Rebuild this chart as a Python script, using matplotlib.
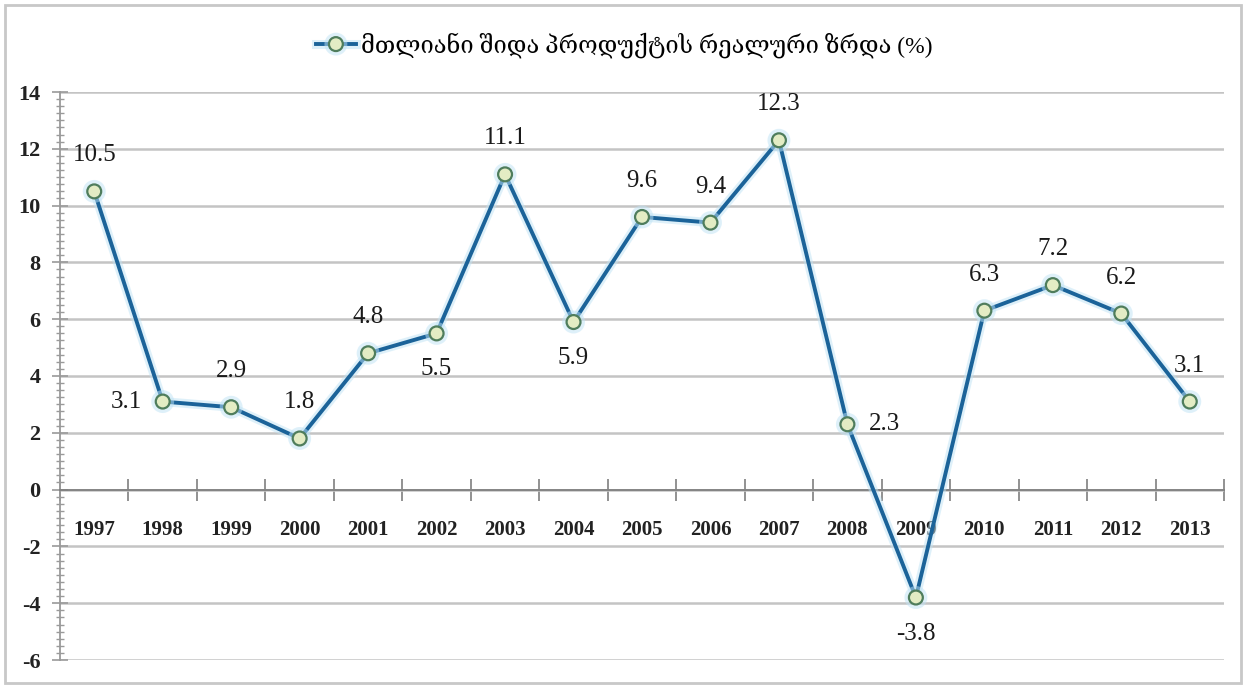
import matplotlib
matplotlib.use("Agg")
import matplotlib.pyplot as plt
import matplotlib.patheffects as pe
from matplotlib.patches import Rectangle
from matplotlib.ticker import MultipleLocator, FixedLocator

plt.rcParams["axes.unicode_minus"] = False

# Real GDP growth, %
years = [1997, 1998, 1999, 2000, 2001, 2002, 2003, 2004, 2005,
         2006, 2007, 2008, 2009, 2010, 2011, 2012, 2013]
growth = [10.5, 3.1, 2.9, 1.8, 4.8, 5.5, 11.1, 5.9, 9.6,
          9.4, 12.3, 2.3, -3.8, 6.3, 7.2, 6.2, 3.1]
label_side = ["up", "left", "up", "up", "up", "down", "up", "down", "up",
              "up", "up", "right", "down", "up", "up", "up", "up"]
series_name = "მთლიანი შიდა პროდუქტის რეალური ზრდა (%)"

SERIF = ["Liberation Serif", "DejaVu Serif"]
LINE_C = "#1b6399"
GRID_C = "#c4c4c4"
AXIS_C = "#7f7f7f"

fig = plt.figure(figsize=(12.48, 6.87), dpi=100)
ax = fig.add_axes([60 / 1248, 1 - 660 / 687, 1164 / 1248, 568 / 687])

x = list(range(len(years)))
line, = ax.plot(
    x, growth, color=LINE_C, lw=2.8, marker="o", ms=10,
    mfc="#e3ecc4", mec="#4f7d5c", mew=1.6, zorder=4,
    path_effects=[pe.Stroke(linewidth=6.5, foreground="#bfe3f5", alpha=0.5),
                  pe.Normal()],
)

# value labels
offsets = {"up": (0, 36), "down": (0, -36), "left": (-36, 0), "right": (37, 0)}
for xi, v, side in zip(x, growth, label_side):
    ax.annotate(f"{v:.1f}", (xi, v), textcoords="offset pixels",
                xytext=offsets[side], ha="center", va="center",
                fontsize=18, family=SERIF, color="#1a1a1a",
                annotation_clip=False, zorder=5)

# category labels under the zero line
for xi, yr in zip(x, years):
    ax.text(xi, -1.42, str(yr), ha="center", va="center", fontsize=15,
            fontweight="bold", family=SERIF, color="#222222")

ax.set_xlim(-0.5, len(years) - 0.5)
ax.set_ylim(-6, 14)

ax.yaxis.set_major_locator(MultipleLocator(2))
ax.yaxis.set_minor_locator(MultipleLocator(0.25))
ax.xaxis.set_major_locator(FixedLocator([i - 0.5 for i in range(len(years) + 1)]))
ax.set_xticklabels([])

ax.grid(axis="y", color=GRID_C, lw=1.8, zorder=0)
ax.set_axisbelow(True)

for s in ("top", "right"):
    ax.spines[s].set_visible(False)
ax.spines["bottom"].set_position(("data", 0))
ax.spines["bottom"].set_color(AXIS_C)
ax.spines["bottom"].set_linewidth(1.3)
ax.spines["left"].set_color("#9a9a9a")
ax.spines["left"].set_linewidth(1.3)

ax.tick_params(axis="x", which="major", direction="inout", length=16,
               width=1.2, color=AXIS_C)
ax.tick_params(axis="y", which="major", direction="inout", length=12,
               width=1.2, color="#9a9a9a", pad=8)
ax.tick_params(axis="y", which="minor", direction="inout", length=6,
               width=1.0, color="#9a9a9a")
for t in ax.get_yticklabels():
    t.set_fontfamily(SERIF)
    t.set_fontweight("bold")
    t.set_fontsize(16)
    t.set_color("#222222")

leg = fig.legend([line], [series_name], loc="center",
                 bbox_to_anchor=(0.5, 1 - 45 / 687), frameon=False,
                 handlelength=1.7, handletextpad=0.2,
                 prop={"family": SERIF, "size": 17})

# outer frame
fig.patches.append(Rectangle((5 / 1248, 4 / 687), 1236 / 1248, 678 / 687,
                             transform=fig.transFigure, fill=False,
                             edgecolor="#c8c8c8", lw=2))

fig.savefig("out.png", dpi=100)
